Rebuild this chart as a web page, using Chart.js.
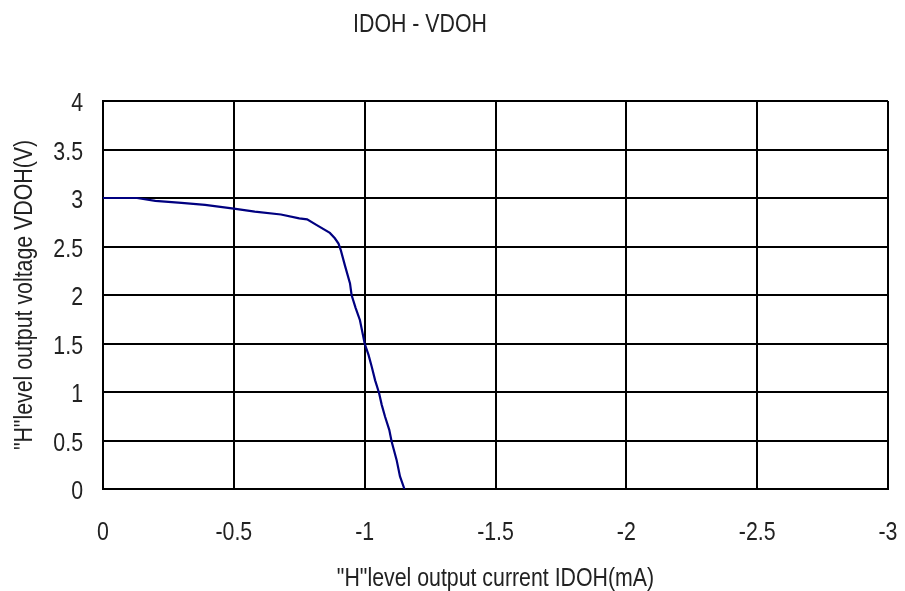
<!DOCTYPE html>
<html>
<head>
<meta charset="utf-8">
<script src="https://cdn.jsdelivr.net/npm/chart.js@4.4.1/dist/chart.umd.min.js"></script>
<style>
  html, body { margin: 0; padding: 0; background: #fff; }
  #wrap { position: relative; width: 905px; height: 591px; }
  #title { position: absolute; left: 0; top: 8px; width: 840px; text-align: center;
           font: 26px "Liberation Sans", Arial, sans-serif;
           line-height: 30px; color: #222; transform: scaleX(0.82); transform-origin: 420px 0; }
  canvas { position: absolute; left: 0; top: 0; }
</style>
</head>
<body>
<div id="wrap">
  <canvas id="c" width="905" height="591"></canvas>
  <div id="title">IDOH - VDOH</div>
</div>
<script>
const chartTitle = "IDOH - VDOH";
const xAxisTitle = '"H"level output current IDOH(mA)';
const yAxisTitle = '"H"level output voltage VDOH(V)';

// IDOH (mA)
const idoh = [0, -0.13, -0.2, -0.3, -0.39, -0.5, -0.58, -0.68, -0.75, -0.78, -0.817, -0.867, -0.886, -0.9, -0.909, -0.925, -0.944, -0.95, -0.965, -0.982, -1.0, -1.015, -1.027, -1.04, -1.055, -1.065, -1.078, -1.094, -1.103, -1.112, -1.122, -1.135, -1.152];
// VDOH (V)
const vdoh = [3.0, 3.0, 2.97, 2.95, 2.93, 2.89, 2.86, 2.83, 2.79, 2.78, 2.72, 2.64, 2.585, 2.53, 2.46, 2.3, 2.12, 2.0, 1.87, 1.74, 1.5, 1.38, 1.26, 1.12, 0.99, 0.87, 0.745, 0.61, 0.49, 0.4, 0.30, 0.13, 0.0];

const xTickValues = [0, -0.5, -1, -1.5, -2, -2.5, -3];
const xTickLabels = ["0", "-0.5", "-1", "-1.5", "-2", "-2.5", "-3"];
const yTickValues = [0, 0.5, 1, 1.5, 2, 2.5, 3, 3.5, 4];
const yTickLabels = ["0", "0.5", "1", "1.5", "2", "2.5", "3", "3.5", "4"];

const FONT = '"Liberation Sans", Arial, sans-serif';
const NARROW = 0.82;
document.getElementById('title').textContent = chartTitle;

const points = idoh.map((x, i) => ({ x: x, y: vdoh[i] }));

// Render canvas text horizontally condensed (Arial Narrow look) around its anchor point.
const narrowText = {
  id: 'narrowText',
  beforeDraw(chart) {
    const ctx = chart.ctx;
    if (ctx.__narrowed) return;
    const orig = ctx.fillText;
    ctx.fillText = function (t, x, y, mw) {
      this.save();
      this.translate(x, y);
      this.scale(NARROW, 1);
      orig.call(this, t, 0, 0);
      this.restore();
    };
    ctx.__narrowed = true;
  }
};

new Chart(document.getElementById('c'), {
  type: 'scatter',
  data: {
    datasets: [{
      data: points,
      showLine: true,
      borderColor: '#000080',
      borderWidth: 2.2,
      pointRadius: 0,
      tension: 0,
      fill: false
    }]
  },
  plugins: [narrowText],
  options: {
    responsive: false,
    animation: false,
    layout: { padding: { top: 101, right: 17, left: 0, bottom: 0 } },
    plugins: { legend: { display: false }, tooltip: { enabled: false }, title: { display: false } },
    scales: {
      x: {
        type: 'linear',
        min: -3, max: 0, reverse: true,
        afterFit: s => { s.height = 102; s.paddingLeft = 0; s.paddingRight = 0; },
        afterBuildTicks: s => { s.ticks = xTickValues.map(v => ({ value: v })); },
        ticks: {
          padding: 28, color: '#222', maxRotation: 0,
          font: { family: FONT, size: 26 },
          callback: (v) => { const i = xTickValues.indexOf(v); return i >= 0 ? xTickLabels[i] : ''; }
        },
        grid: { color: '#000', lineWidth: 2, drawTicks: false },
        border: { display: true, color: '#000', width: 2 },
        title: { display: true, text: xAxisTitle, color: '#222', padding: { top: 0, bottom: -1 },
                 font: { family: FONT, size: 26, lineHeight: 1 } }
      },
      y: {
        type: 'linear',
        min: 0, max: 4,
        afterFit: s => { s.width = 103; s.paddingTop = 0; s.paddingBottom = 0; },
        afterBuildTicks: s => { s.ticks = yTickValues.map(v => ({ value: v })); },
        ticks: {
          padding: 20, color: '#222', labelOffset: 3,
          font: { family: FONT, size: 26 },
          callback: (v) => { const i = yTickValues.indexOf(v); return i >= 0 ? yTickLabels[i] : ''; }
        },
        grid: { color: '#000', lineWidth: 2, drawTicks: false },
        border: { display: true, color: '#000', width: 2 },
        title: { display: true, text: yAxisTitle, color: '#222', padding: 12,
                 font: { family: FONT, size: 26, lineHeight: 1 } }
      }
    }
  }
});
</script>
</body>
</html>
